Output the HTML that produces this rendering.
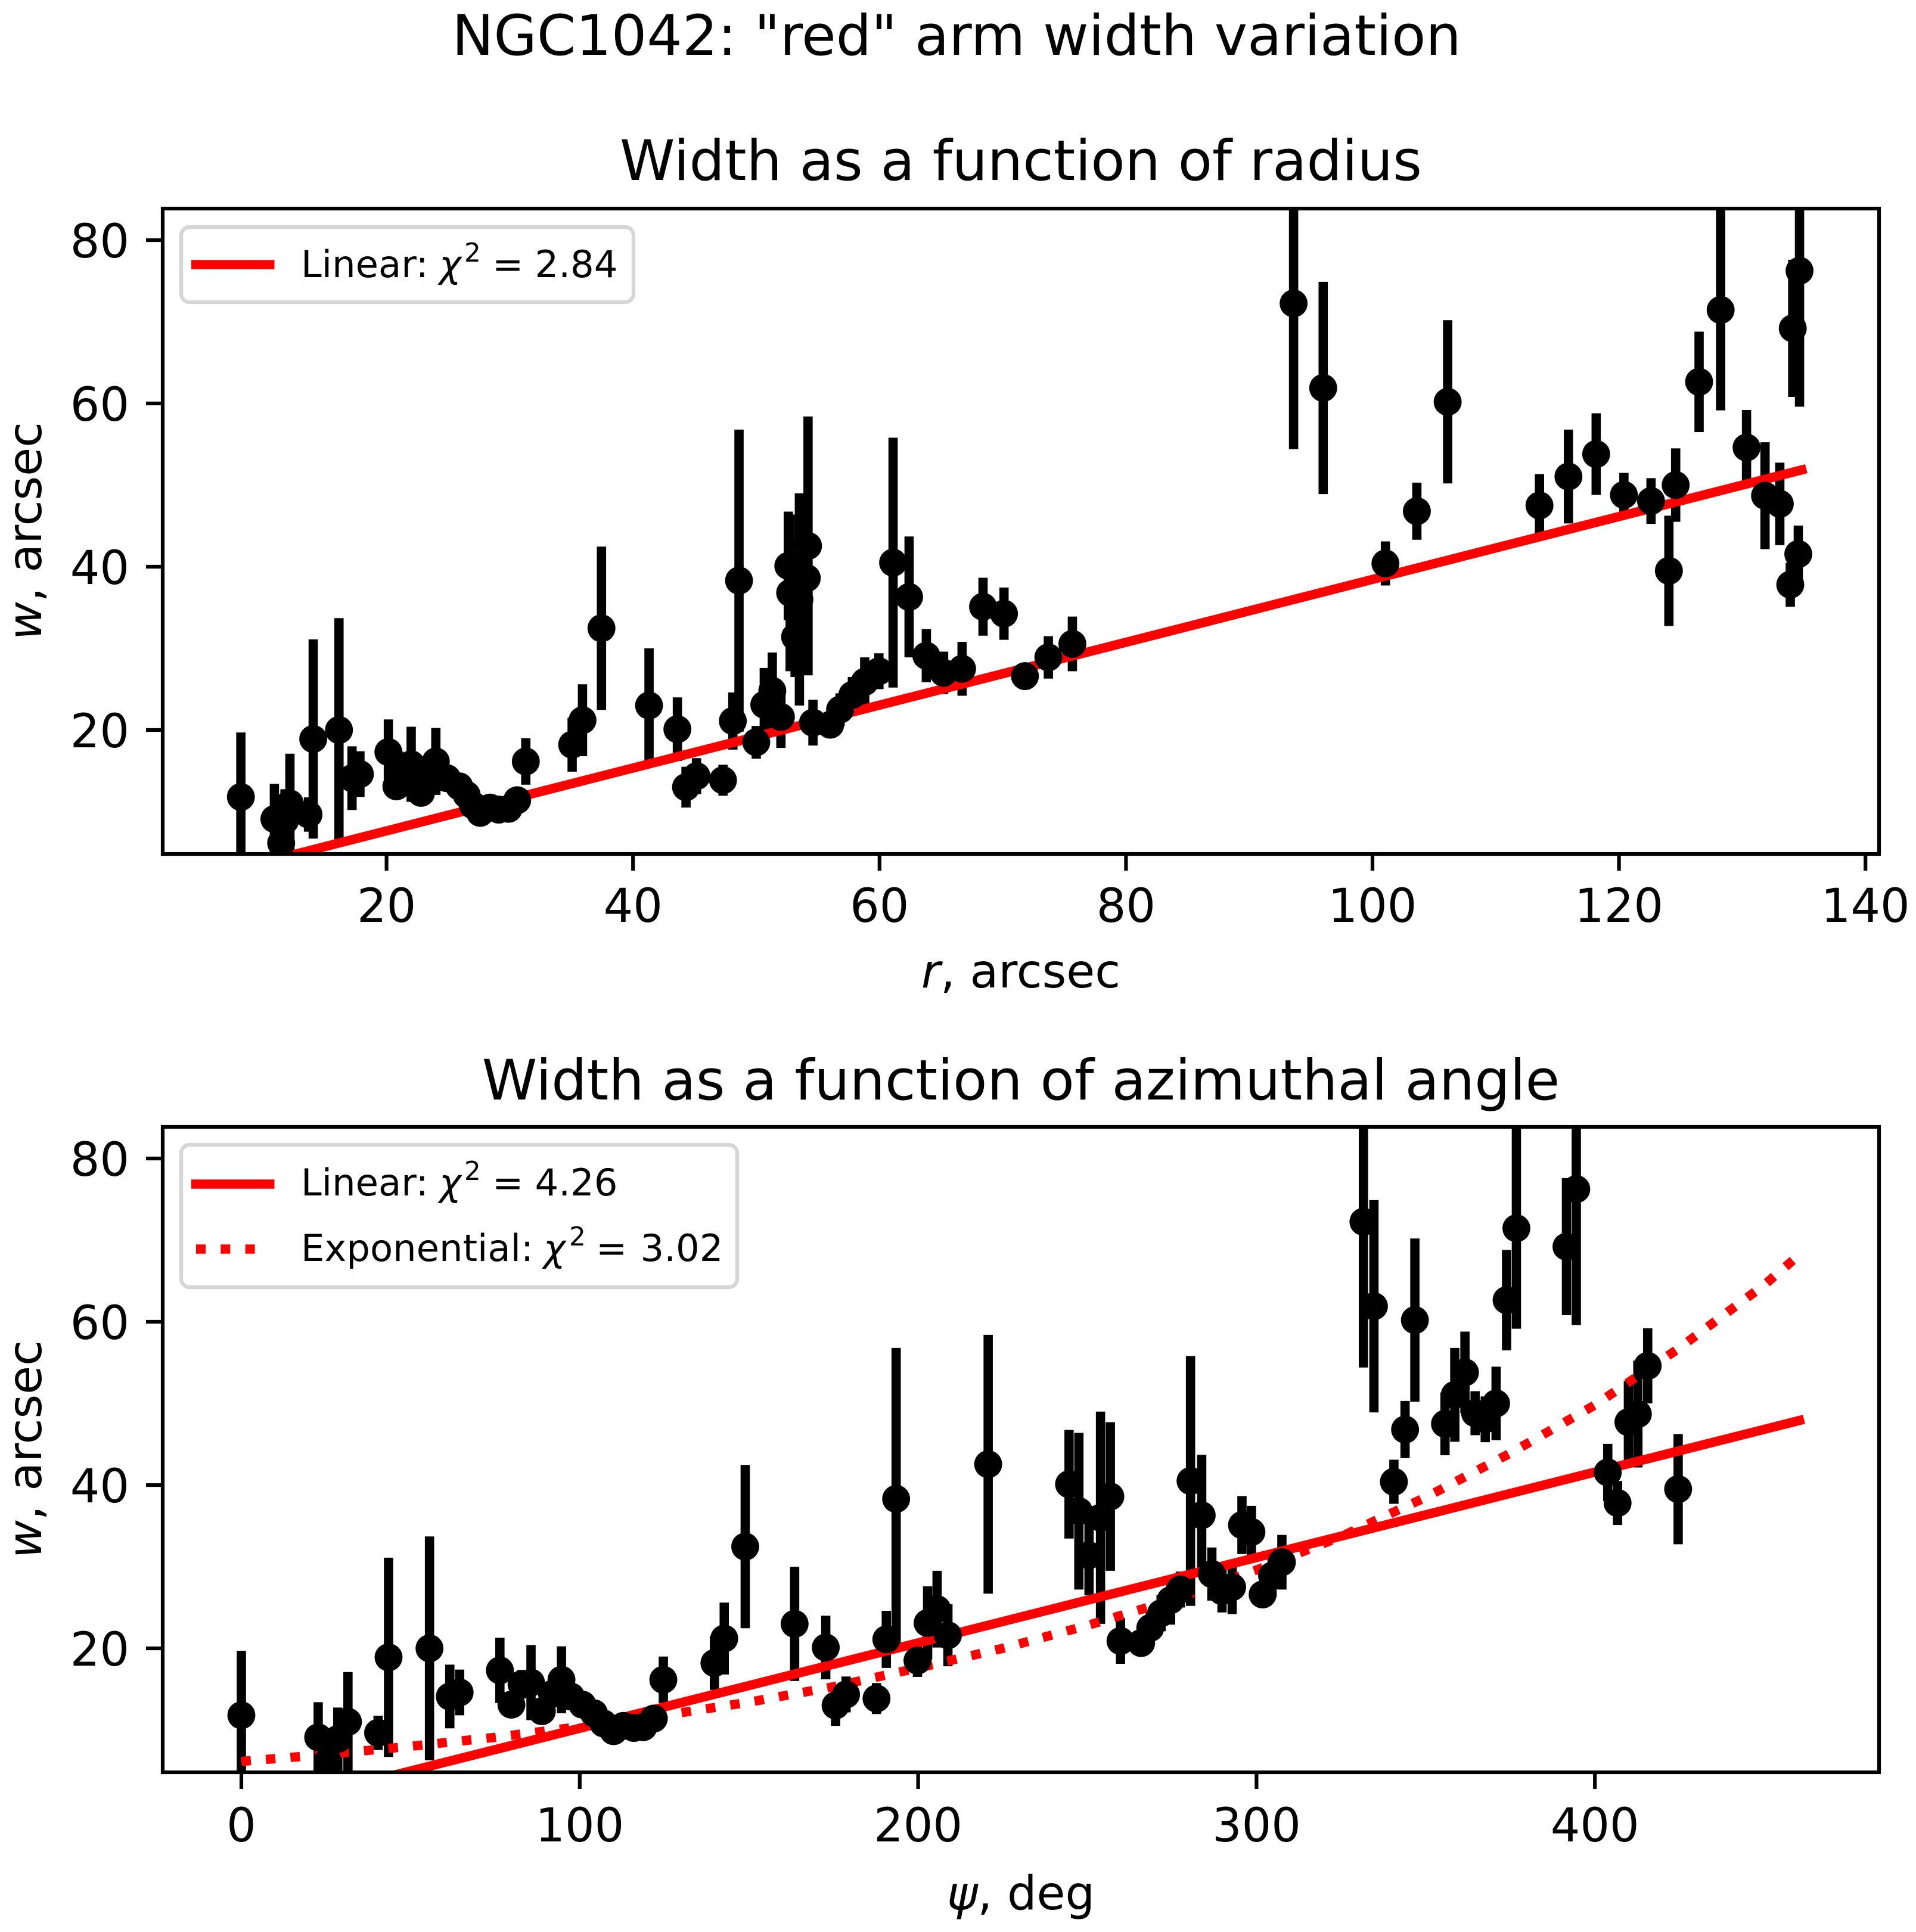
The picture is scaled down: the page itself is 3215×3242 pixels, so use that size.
<!DOCTYPE html>
<html lang="en">
<head>
<meta charset="utf-8">
<title>NGC1042: "red" arm width variation</title>
<style>
html,body{margin:0;padding:0;background:#fff;}
svg{display:block;}
text{font-family:"DejaVu Sans","Liberation Sans",sans-serif;fill:#000;}
.tick-label{font-size:78px;}
.title{font-size:93.6px;}
.axis-label{font-size:78px;}
.legend-text{font-size:62.4px;}
</style>
</head>
<body>
<svg id="figure" xmlns="http://www.w3.org/2000/svg" width="3215" height="3242" viewBox="0 0 3215 3242">
  <defs>
    <clipPath id="clip-top"><rect x="273" y="350" width="2880" height="1083"/></clipPath>
    <clipPath id="clip-bottom"><rect x="273" y="1891" width="2880" height="1083"/></clipPath>
  </defs>
  <rect x="0" y="0" width="3215" height="3242" fill="#ffffff"/>

  <text class="title" x="1605" y="92" text-anchor="middle">NGC1042: "red" arm width variation</text>

  <!-- top panel -->
  <text class="title" x="1713" y="302" text-anchor="middle">Width as a function of radius</text>
  <g id="top-plot">
    <g id="top-bars" clip-path="url(#clip-top)"></g>
    <g id="top-lines" clip-path="url(#clip-top)"></g>
    <g id="top-markers" clip-path="url(#clip-top)"></g>
  </g>
  <g id="top-ticks"></g>
  <rect x="273" y="350" width="2880" height="1083" fill="none" stroke="#000" stroke-width="6.2"/>
  <text class="axis-label" x="1713" y="1657" text-anchor="middle"><tspan font-style="italic">r</tspan>, arcsec</text>
  <text class="axis-label" transform="translate(69,891) rotate(-90)" text-anchor="middle"><tspan font-style="italic">w</tspan>, arcsec</text>
  <g>
    <rect x="304" y="381" width="759" height="126" rx="14" ry="14" fill="#fff" fill-opacity="0.8" stroke="#d6d6d6" stroke-width="6.4"/>
    <line x1="321" y1="444" x2="460.5" y2="444" stroke="#ff0000" stroke-width="15.6"/>
    <text class="legend-text" y="465"><tspan x="505">Linear:</tspan><tspan x="737" font-style="italic">χ</tspan><tspan x="779" dy="-26" font-size="43.7">2</tspan><tspan x="826" dy="26">=</tspan><tspan x="897.5">2.84</tspan></text>
  </g>

  <!-- bottom panel -->
  <text class="title" x="1713" y="1845" text-anchor="middle">Width as a function of azimuthal angle</text>
  <g id="bottom-plot">
    <g id="bottom-bars" clip-path="url(#clip-bottom)"></g>
    <g id="bottom-lines" clip-path="url(#clip-bottom)"></g>
    <g id="bottom-markers" clip-path="url(#clip-bottom)"></g>
  </g>
  <g id="bottom-ticks"></g>
  <rect x="273" y="1891" width="2880" height="1083" fill="none" stroke="#000" stroke-width="6.2"/>
  <text class="axis-label" x="1713" y="3204" text-anchor="middle"><tspan font-style="italic">ψ</tspan>, deg</text>
  <text class="axis-label" transform="translate(69,2432) rotate(-90)" text-anchor="middle"><tspan font-style="italic">w</tspan>, arcsec</text>
  <g>
    <rect x="304" y="1921" width="933" height="239" rx="14" ry="14" fill="#fff" fill-opacity="0.8" stroke="#d6d6d6" stroke-width="6.4"/>
    <line x1="321" y1="1987" x2="460.5" y2="1987" stroke="#ff0000" stroke-width="15.6"/>
    <text class="legend-text" y="2006"><tspan x="505">Linear:</tspan><tspan x="737" font-style="italic">χ</tspan><tspan x="779" dy="-26" font-size="43.7">2</tspan><tspan x="826" dy="26">=</tspan><tspan x="897.5">4.26</tspan></text>
    <line x1="329" y1="2096" x2="429" y2="2096" stroke="#ff0000" stroke-width="15.6" stroke-dasharray="16 25.3"/>
    <text class="legend-text" y="2116"><tspan x="505">Exponential:</tspan><tspan x="912" font-style="italic">χ</tspan><tspan x="955" dy="-26" font-size="43.7">2</tspan><tspan x="1000" dy="26">=</tspan><tspan x="1074.5">3.02</tspan></text>
  </g>
</svg>

<script>
/* ---- data ---- */
var radius = [8.18,10.9,11.45,11.76,12.16,13.67,14.05,16.14,17.2,17.84,20.15,20.8,21,22,22.8,23.4,24,24.9,25.9,26.5,27,27.6,28.4,29.1,29.9,30.6,31.3,35.06,35.9,37.44,41.3,43.6,44.3,45.15,47.3,48.1,48.6,50,50.65,51.3,52,52.6,52.75,53.15,53.5,54.1,54.2,54.6,56,56.8,57.8,58.8,59.95,61.1,62.4,63.8,65.2,66.7,68.4,70.1,71.8,73.7,75.65,93.6,96,101.05,103.6,106.1,113.55,115.9,118.15,120.4,122.6,124.05,124.6,126.5,128.25,130.35,131.85,133.05,133.9,134.1,134.55,134.65];
var azimuth = [0,22.7,25.5,28.5,31.5,40.4,43.5,55.6,61.6,64.5,76.4,79.8,82.8,85.6,88.8,91.8,94.6,97.4,100.8,104.2,107,110,112.9,116,118.8,121.9,124.7,139.8,142.7,148.9,163.5,172.7,175.6,178.7,187.7,190.6,193.5,199.8,202.8,205.6,208.8,244.6,247.5,250.5,253.9,256.8,220.7,259.8,265.9,268.6,271.8,274.6,277.5,280.5,283.8,286.8,289.8,292.8,295.7,298.5,301.8,304.6,307.5,331.6,334.7,340.6,343.9,346.8,355.7,358.6,361.6,364.6,367.6,424.6,370.8,373.9,376.8,415.6,412.7,409.9,406.7,391.6,403.8,394.5];
var width = [11.8,9.1,6.15,8.9,11,9.65,18.9,20,14.1,14.6,17.3,13.1,15.6,15.8,12.3,14.4,16.15,14.1,13.1,12.05,10.8,9.85,10.5,10.25,10.35,11.4,16.15,18.2,21.2,32.46,23,20.1,13,14.35,13.85,21.1,38.3,18.5,23.1,24.8,21.6,40.1,36.8,31.4,36,38.6,42.55,20.9,20.65,22.5,24.3,25.9,27.2,40.5,36.3,29.1,27,27.5,35.1,34.25,26.6,28.9,30.55,72.25,61.9,40.4,46.8,60.2,47.5,51.05,53.8,48.8,48.05,39.5,50,62.65,71.45,54.6,48.7,47.7,37.8,69.2,41.55,76.25];
var widthErr = [7.9,4.3,2.5,3.85,6.1,2.1,12.2,13.7,3.9,2.8,4,1.5,1.75,4.6,1.5,1.5,4.1,0.5,0.5,0.5,0.5,0.5,0.5,0.5,0.5,0.5,2.85,3.3,4.4,10,7,3.9,2.5,2.2,1.9,3.5,18.5,2,4.5,4.7,3.8,6.65,9.6,4.9,13,9.1,15.85,2.8,0.5,2,2.2,3,2.2,15.3,7.4,3.25,2.6,3.3,3.55,3.2,0.5,2.6,3.35,17.85,13,2.7,3.5,10,3.85,5.75,5,2.7,2.8,6.75,4.5,6.15,12.3,4.6,6.55,5.05,2.7,8.4,3.5,16.65];

var linearRadiusX = [8.2,135.2];
var linearRadiusY = [3.1,52];
var linearAzimuthX = [0,461.8];
var linearAzimuthY = [-0.25,48.05];
var expAzimuthX = [0,25,50,75,100,125,150,175,200,225,250,275,300,325,350,375,400,425,450,459];
var expAzimuthY = [6.15,7,8,9.1,10.4,11.8,13.4,15.3,17.6,20,22.8,25.9,29.6,33.7,38.5,43.9,49.8,56.8,64.5,67.7];

var radiusTicks = [20,40,60,80,100,120,140];
var azimuthTicks = [0,100,200,300,400];
var widthTicks = [20,40,60,80];

/* ---- axis functions ---- */
function xRadius(v){ return 648.6 + (v - 20) * 20.68; }
function xAzimuth(v){ return 405 + v * 5.678; }
function yTop(v){ return 1225 - (v - 20) * 13.7; }
function yBottom(v){ return 2766 - (v - 20) * 13.7; }

var NS = 'http://www.w3.org/2000/svg';
function node(tag, parentId){
  var el = document.createElementNS(NS, tag);
  document.getElementById(parentId).appendChild(el);
  return el;
}

function drawSeries(prefix, xs, xFn, yFn){
  for (var i = 0; i < xs.length; i++){
    var bar = node('line', prefix + '-bars');
    
    
    bar.setAttribute('x1', xFn(xs[i]));
    bar.setAttribute('x2', xFn(xs[i]));
    bar.setAttribute('y1', yFn(width[i] - widthErr[i]));
    bar.setAttribute('y2', yFn(width[i] + widthErr[i]));
    bar.setAttribute('stroke', '#000');
    bar.setAttribute('stroke-width', '15.6');

    var dot = node('circle', prefix + '-markers');
    
    
    dot.setAttribute('cx', xFn(xs[i]));
    dot.setAttribute('cy', yFn(width[i]));
    dot.setAttribute('r', '23.4');
    dot.setAttribute('fill', '#000');
  }
}

function pointsFor(xs, ys, xFn, yFn){
  var out = [];
  for (var i = 0; i < xs.length; i++){ out.push(xFn(xs[i]) + ',' + yFn(ys[i])); }
  return out.join(' ');
}

function drawXTicks(prefix, ticks, xFn, axisY, labelY){
  for (var i = 0; i < ticks.length; i++){
    var t = node('line', prefix + '-ticks');
    
    
    t.setAttribute('x1', xFn(ticks[i]));
    t.setAttribute('x2', xFn(ticks[i]));
    t.setAttribute('y1', axisY);
    t.setAttribute('y2', axisY + 28);
    t.setAttribute('stroke', '#000');
    t.setAttribute('stroke-width', '6.2');

    var l = node('text', prefix + '-ticks');
    
    
    l.setAttribute('class', 'tick-label');
    l.setAttribute('x', xFn(ticks[i]));
    l.setAttribute('y', labelY);
    l.setAttribute('text-anchor', 'middle');
    l.textContent = ticks[i];
  }
}

function drawYTicks(prefix, ticks, yFn){
  for (var i = 0; i < ticks.length; i++){
    var t = node('line', prefix + '-ticks');
    
    
    t.setAttribute('x1', 245);
    t.setAttribute('x2', 273);
    t.setAttribute('y1', yFn(ticks[i]));
    t.setAttribute('y2', yFn(ticks[i]));
    t.setAttribute('stroke', '#000');
    t.setAttribute('stroke-width', '6.2');

    var l = node('text', prefix + '-ticks');
    
    
    l.setAttribute('class', 'tick-label');
    l.setAttribute('x', 217);
    l.setAttribute('y', yFn(ticks[i]) + 29);
    l.setAttribute('text-anchor', 'end');
    l.textContent = ticks[i];
  }
}

drawSeries('top', radius, xRadius, yTop);
drawSeries('bottom', azimuth, xAzimuth, yBottom);

var lineTop = node('polyline', 'top-lines');


lineTop.setAttribute('points', pointsFor(linearRadiusX, linearRadiusY, xRadius, yTop));
lineTop.setAttribute('fill', 'none');
lineTop.setAttribute('stroke', '#ff0000');
lineTop.setAttribute('stroke-width', '15.6');

var lineExp = node('polyline', 'bottom-lines');


lineExp.setAttribute('points', pointsFor(expAzimuthX, expAzimuthY, xAzimuth, yBottom));
lineExp.setAttribute('fill', 'none');
lineExp.setAttribute('stroke', '#ff0000');
lineExp.setAttribute('stroke-width', '15.6');
lineExp.setAttribute('stroke-dasharray', '16 25.3');

var lineBottom = node('polyline', 'bottom-lines');


lineBottom.setAttribute('points', pointsFor(linearAzimuthX, linearAzimuthY, xAzimuth, yBottom));
lineBottom.setAttribute('fill', 'none');
lineBottom.setAttribute('stroke', '#ff0000');
lineBottom.setAttribute('stroke-width', '15.6');

drawXTicks('top', radiusTicks, xRadius, 1433, 1547);
drawYTicks('top', widthTicks, yTop);
drawXTicks('bottom', azimuthTicks, xAzimuth, 2974, 3090);
drawYTicks('bottom', widthTicks, yBottom);
</script>
</body>
</html>
